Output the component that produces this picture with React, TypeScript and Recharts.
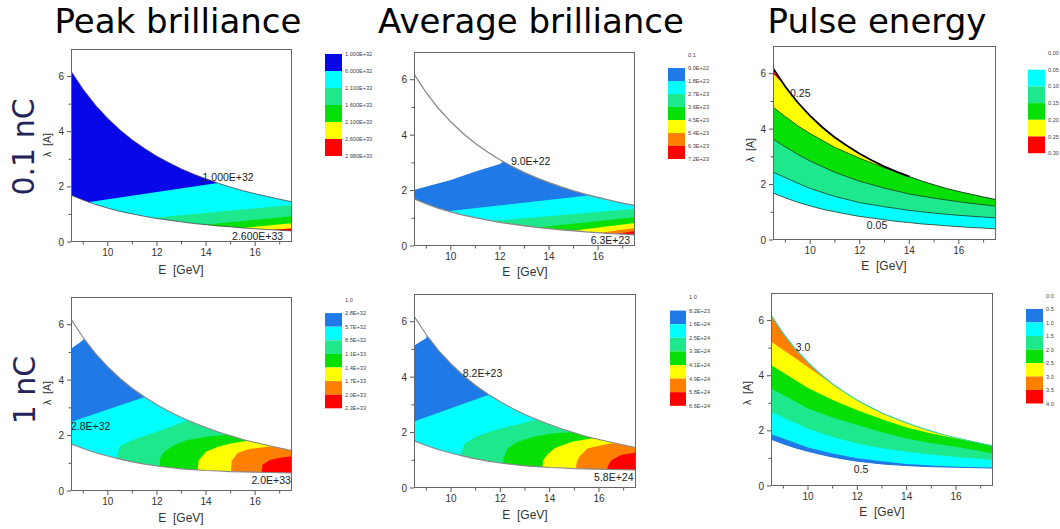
import React from "react";
import { ComposedChart, Area, Line, XAxis, YAxis, ReferenceDot } from "recharts";

// shared E grid and the two edges of the tuning range
const energyGrid = [8.5, 9, 9.5, 10, 10.5, 11, 11.5, 12, 12.5, 13, 13.5, 14, 14.5, 15, 15.5, 16, 16.5, 17, 17.5];
const upperEdge = [6.2, 5.53, 4.96, 4.48, 4.06, 3.7, 3.39, 3.11, 2.87, 2.65, 2.46, 2.29, 2.13, 1.99, 1.86, 1.75, 1.65, 1.55, 1.46];
const lowerEdge01 = [1.7, 1.52, 1.36, 1.23, 1.11, 1.02, 0.93, 0.85, 0.79, 0.73, 0.67, 0.63, 0.58, 0.55, 0.51, 0.48, 0.45, 0.43, 0.4];
const lowerEdge1 = [1.7, 1.53, 1.38, 1.26, 1.15, 1.05, 0.97, 0.9, 0.85, 0.8, 0.77, 0.74, 0.72, 0.7, 0.69, 0.68, 0.67, 0.66, 0.65];

type Pt = [number, number];
const fullSpan: Pt[] = [[8.5, 7], [17.5, 7]];

// peak brilliance, 0.1 nC (contour tops, [E, lambda])
const peak01Cyan: Pt[] = [[8.5, 1.35], [14.4, 2.13], [17.5, 2.55]];
const peak01Mint: Pt[] = [[11.0, 0.81], [17.5, 1.34]];
const peak01Green: Pt[] = [[13.5, 0.59], [17.5, 0.93]];
const peak01Yellow: Pt[] = [[15.0, 0.47], [17.5, 0.68]];
const peak01Red: Pt[] = [[16.0, 0.39], [17.5, 0.5]];

// average brilliance, 0.1 nC
const avg01Blue: Pt[] = [[8.5, 2.02], [8.9, 2.12], [10, 2.38], [11, 2.69], [12, 2.96], [12.5, 3.3], [17.5, 7]];
const avg01Cyan: Pt[] = [[9.5, 1.22], [15.6, 1.82], [17.5, 2.5]];
const avg01Mint: Pt[] = [[11.2, 0.86], [17.5, 1.34]];
const avg01Green: Pt[] = [[13.2, 0.64], [17.5, 1.04]];
const avg01Yellow: Pt[] = [[14.7, 0.52], [17.5, 0.83]];
const avg01Orange: Pt[] = [[15.8, 0.44], [17.5, 0.65]];
const avg01Red: Pt[] = [[16.5, 0.41], [17.5, 0.54]];

// pulse energy, 0.1 nC
const pulse01Red: Pt[] = [[8.5, 6.0], [8.85, 5.7]];
const pulse01Green: Pt[] = [[8.5, 4.8], [9, 4.45], [9.5, 4.12], [10, 3.84], [11, 3.34], [12, 2.95], [13, 2.6], [14, 2.31], [15, 2.08], [16, 1.88], [17.5, 1.62]];
const pulse01Mint: Pt[] = [[8.5, 3.64], [9, 3.36], [9.5, 3.09], [10, 2.85], [11, 2.44], [12, 2.12], [13, 1.87], [14, 1.66], [15, 1.51], [16, 1.38], [17.5, 1.22]];
const pulse01Cyan: Pt[] = [[8.5, 2.45], [9, 2.25], [9.5, 2.05], [10, 1.86], [11, 1.57], [12, 1.35], [13, 1.2], [14, 1.07], [15, 0.97], [16, 0.89], [17.5, 0.8]];

// peak brilliance, 1 nC
const peak1Blue: Pt[] = [[8.5, 5.13], [9.0, 5.45], [9.3, 7], [17.5, 7]];
const peak1Cyan: Pt[] = [[8.5, 2.49], [11.5, 3.39], [11.9, 7], [17.5, 7]];
const peak1Mint: Pt[] = [[10.35, 0.9], [10.37, 1.3], [10.5, 1.62], [11, 1.84], [12, 2.14], [12.8, 2.4], [13.3, 2.58], [13.6, 7], [17.5, 7]];
const peak1Green: Pt[] = [[12.1, 0.8], [12.13, 1.2], [12.3, 1.42], [12.7, 1.65], [13.2, 1.83], [14, 1.96], [15, 2.04], [15.3, 7], [17.5, 7]];
const peak1Yellow: Pt[] = [[13.65, 0.7], [13.7, 1.1], [14, 1.42], [14.5, 1.6], [15, 1.71], [15.5, 1.79], [15.9, 1.82], [16.2, 7], [17.5, 7]];
const peak1Orange: Pt[] = [[15.0, 0.65], [15.05, 1.1], [15.3, 1.38], [15.8, 1.52], [16.5, 1.6], [17.5, 1.66]];
const peak1Red: Pt[] = [[16.25, 0.6], [16.3, 0.95], [16.6, 1.12], [17, 1.2], [17.5, 1.25]];

// average brilliance, 1 nC
const avg1Blue: Pt[] = [[8.5, 5.13], [9.0, 5.41], [9.3, 7], [17.5, 7]];
const avg1Cyan: Pt[] = [[8.5, 2.4], [11.5, 3.36], [11.9, 7], [17.5, 7]];
const avg1Mint: Pt[] = [[10.35, 0.9], [10.4, 1.25], [10.55, 1.6], [11, 1.86], [11.9, 2.12], [12.9, 2.34], [13.4, 2.46], [13.7, 7], [17.5, 7]];
const avg1Green: Pt[] = [[12.1, 0.8], [12.14, 1.1], [12.3, 1.43], [12.7, 1.67], [13.4, 1.86], [14.2, 1.98], [15, 2.02], [15.3, 7], [17.5, 7]];
const avg1Yellow: Pt[] = [[13.7, 0.7], [13.74, 1.0], [13.9, 1.2], [14.2, 1.43], [14.9, 1.67], [15.8, 1.8], [16.1, 7], [17.5, 7]];
const avg1Orange: Pt[] = [[15.05, 0.65], [15.1, 0.95], [15.2, 1.13], [15.55, 1.43], [16.4, 1.6], [17.5, 1.66]];
const avg1Red: Pt[] = [[16.3, 0.6], [16.37, 0.8], [16.5, 1.0], [16.9, 1.19], [17.5, 1.28]];

// pulse energy, 1 nC
const pulse1Yellow: Pt[] = [[8.5, 5.24], [9.5, 4.62], [10.5, 4.0], [11.3, 3.5], [12, 7], [17.5, 7]];
const pulse1Green: Pt[] = [[8.5, 4.39], [10, 3.55], [11, 3.12], [12, 2.75], [13, 2.42], [14, 2.12], [15, 1.9], [16, 1.72], [17.5, 1.5]];
const pulse1Mint: Pt[] = [[8.5, 3.54], [9, 3.3], [10, 2.81], [11, 2.48], [12, 2.21], [13, 1.95], [14, 1.72], [15, 1.55], [16, 1.42], [17.5, 1.18]];
const pulse1Cyan: Pt[] = [[8.5, 2.69], [9, 2.48], [10, 2.08], [11, 1.78], [12, 1.54], [13, 1.37], [14, 1.24], [15, 1.14], [16, 1.05], [17.5, 0.94]];
const pulse1Blue: Pt[] = [[8.5, 1.88], [9, 1.72], [10, 1.4], [11, 1.18], [12, 1.01], [13, 0.9], [14, 0.8], [15, 0.74], [16, 0.69], [17, 0.66], [17.5, 0.65]];

// contour labels [E, lambda, text]
type Note = [number, number, string];
const peak01Notes: Note[] = [[14.9, 2.37, "1.000E+32"], [16.1, 0.22, "2.600E+33"]];
const avg01Notes: Note[] = [[13.25, 3.06, "9.0E+22"], [16.5, 0.2, "6.3E+23"]];
const pulse01Notes: Note[] = [[9.6, 5.3, "0.25"], [12.7, 0.54, "0.05"]];
const peak1Notes: Note[] = [[9.3, 2.35, "2.8E+32"], [16.65, 0.41, "2.0E+33"]];
const avg1Notes: Note[] = [[11.28, 4.16, "8.2E+23"], [16.6, 0.41, "5.8E+24"]];
const pulse1Notes: Note[] = [[9.8, 5.04, "3.0"], [12.15, 0.6, "0.5"]];

// colour-scale labels
const peak01Scale = ["1.000E+32", "6.000E+32", "1.100E+33", "1.600E+33", "2.100E+33", "2.600E+33", "2.980E+33"];
const avg01Scale = ["0.1", "9.0E+22", "1.8E+23", "2.7E+23", "3.6E+23", "4.5E+23", "5.4E+23", "6.3E+23", "7.2E+23"];
const pulse01Scale = ["0.00", "0.05", "0.10", "0.15", "0.20", "0.25", "0.30"];
const peak1Scale = ["1.0", "2.8E+32", "5.7E+32", "8.5E+32", "1.1E+33", "1.4E+33", "1.7E+33", "2.0E+33", "2.3E+33"];
const avg1Scale = ["1.0", "8.2E+23", "1.6E+24", "2.5E+24", "3.3E+24", "4.1E+24", "4.9E+24", "5.8E+24", "6.6E+24"];
const pulse1Scale = ["0.0", "0.5", "1.0", "1.5", "2.0", "2.5", "3.0", "3.5", "4.0"];

const col = {
  navy: "#0707e8",
  blue: "#1f7ae8",
  cyan: "#00ffff",
  mint: "#1ee88c",
  green: "#06e006",
  yellow: "#ffff00",
  orange: "#ff8000",
  red: "#ff0000",
};

const below = (pts: Pt[]) => pts.map(([E, v]) => ({ E, band: [0, v] }));
const above = (pts: Pt[]) => pts.map(([E, v]) => ({ E, band: [v, 7] }));
// contour line drawn only up to where it runs into the upper edge
const asLine = (pts: Pt[], maxE: number) => pts.filter(([E]) => E <= maxE).map(([E, v]) => ({ E, v }));
const gridLine = (ys: number[], maxE = 17.5) => energyGrid.filter((E) => E <= maxE).map((E, i) => ({ E, v: ys[i] }));

const xTicks = [9, 10, 11, 12, 13, 14, 15, 16, 17];
const yTicks = [0, 1, 2, 3, 4, 5, 6];
const sans = "'Liberation Sans', Arial, sans-serif";

type Layer = { color: string; data: any[] };
type Edge = { data: any[]; color: string; width: number };

type PanelProps = {
  left: number;
  top: number;
  w: number;
  h: number;
  layers: Layer[];
  lower: number[];
  edges: Edge[];
  notes: Note[];
};

function Panel({ left, top, w, h, layers, lower, edges, notes }: PanelProps) {
  const yAxisW = 40;
  const mt = 5;
  const xAxisH = 35;
  const axisY = mt + h;
  const maskTop = energyGrid.map((E, i) => ({ E, band: [upperEdge[i], 7] }));
  const maskBottom = energyGrid.map((E, i) => ({ E, band: [0, lower[i]] }));
  return (
    <div style={{ position: "absolute", left: left - yAxisW, top: top - mt }}>
      <ComposedChart width={w + yAxisW + 5} height={h + mt + xAxisH} margin={{ top: mt, right: 5, bottom: 0, left: 0 }}>
        <XAxis
          type="number"
          dataKey="E"
          domain={[8.5, 17.5]}
          ticks={xTicks}
          allowDataOverflow
          height={xAxisH}
          axisLine={false}
          tickLine={false}
          tick={(p: any) => {
            const major = p.payload.value % 2 === 0;
            return (
              <g>
                <line x1={p.x} x2={p.x} y1={axisY} y2={axisY + (major ? 4 : 2.5)} stroke="#555" />
                {major && (
                  <text x={p.x} y={axisY + 14} textAnchor="middle" fontSize={10} fontFamily={sans} fill="#333">
                    {p.payload.value}
                  </text>
                )}
              </g>
            );
          }}
        />
        <YAxis
          type="number"
          domain={[0, 7]}
          ticks={yTicks}
          allowDataOverflow
          width={yAxisW}
          axisLine={false}
          tickLine={false}
          tick={(p: any) => {
            const major = p.payload.value % 2 === 0;
            return (
              <g>
                <line x1={yAxisW} x2={yAxisW - (major ? 4 : 2.5)} y1={p.y} y2={p.y} stroke="#555" />
                {major && (
                  <text x={yAxisW - 7} y={p.y + 3.5} textAnchor="end" fontSize={10} fontFamily={sans} fill="#333">
                    {p.payload.value}
                  </text>
                )}
              </g>
            );
          }}
        />
        {layers.map((l, i) => (
          <Area key={"a" + i} data={l.data} dataKey="band" type="linear" fill={l.color} fillOpacity={1} stroke="none" isAnimationActive={false} />
        ))}
        <Area data={maskTop} dataKey="band" type="linear" fill="#fff" fillOpacity={1} stroke="none" isAnimationActive={false} />
        <Area data={maskBottom} dataKey="band" type="linear" fill="#fff" fillOpacity={1} stroke="none" isAnimationActive={false} />
        {edges.map((l, i) => (
          <Line key={"e" + i} data={l.data} dataKey="v" type="linear" stroke={l.color} strokeWidth={l.width} dot={false} isAnimationActive={false} />
        ))}
        {notes.map(([E, v, t]) => (
          <ReferenceDot
            key={t}
            x={E}
            y={v}
            r={0}
            ifOverflow="visible"
            shape={(p: any) => (
              <text x={p.cx} y={p.cy + 4} textAnchor="middle" fontSize={10.5} fontFamily={sans} fill="#222">
                {t}
              </text>
            )}
          />
        ))}
      </ComposedChart>
      <div
        style={{
          position: "absolute",
          left: yAxisW,
          top: mt,
          width: w,
          height: h,
          border: "1px solid #666",
          boxSizing: "border-box",
          pointerEvents: "none",
        }}
      />
    </div>
  );
}

function Scale({ x, top, bw, bh, colors, labels }: { x: number; top: number; bw: number; bh: number; colors: (string | null)[]; labels: string[] }) {
  return (
    <g>
      {colors.map((c, i) => (c ? <rect key={i} x={x} y={top + i * bh} width={bw} height={bh} fill={c} /> : null))}
      {labels.map((t, i) => (
        <text key={t + i} x={x + bw + 3} y={top + i * bh + 2} fontSize={5.6} fontFamily={sans} fill="#444">
          {t}
        </text>
      ))}
    </g>
  );
}

const edgePair = (lower: number[], color: string, width: number): Edge[] => [
  { data: gridLine(upperEdge), color, width },
  { data: gridLine(lower), color, width },
];

const xLabel = "E\u00a0\u00a0[GeV]";
const lLabel = "λ\u00a0\u00a0[A]";

export default function App() {
  const title = { fontFamily: "'DejaVu Sans', sans-serif", fontSize: 34, fill: "#000" } as const;
  const row = { fontFamily: "'DejaVu Sans', sans-serif", fontSize: 30, fill: "#24245a" } as const;
  const axisLab = { fontFamily: sans, fontSize: 12, fill: "#333" } as const;
  const lam = { fontFamily: sans, fontSize: 10.5, fill: "#333" } as const;
  const contour = "#1d3a1d";
  return (
    <div style={{ position: "absolute", left: 0, top: 0, width: 1060, height: 529, background: "#fff", overflow: "hidden" }}>
      <Panel
        left={71}
        top={49}
        w={221}
        h={193}
        lower={lowerEdge01}
        layers={[
          { color: col.navy, data: below(fullSpan) },
          { color: col.cyan, data: below(peak01Cyan) },
          { color: col.mint, data: below(peak01Mint) },
          { color: col.green, data: below(peak01Green) },
          { color: col.yellow, data: below(peak01Yellow) },
          { color: col.red, data: below(peak01Red) },
        ]}
        edges={edgePair(lowerEdge01, "#445", 0.8)}
        notes={peak01Notes}
      />
      <Panel
        left={414}
        top={52}
        w={221}
        h={194}
        lower={lowerEdge01}
        layers={[
          { color: col.blue, data: below(avg01Blue) },
          { color: col.cyan, data: below(avg01Cyan) },
          { color: col.mint, data: below(avg01Mint) },
          { color: col.green, data: below(avg01Green) },
          { color: col.yellow, data: below(avg01Yellow) },
          { color: col.orange, data: below(avg01Orange) },
          { color: col.red, data: below(avg01Red) },
        ]}
        edges={edgePair(lowerEdge01, "#888", 1.3)}
        notes={avg01Notes}
      />
      <Panel
        left={773}
        top={46}
        w={223}
        h={194}
        lower={lowerEdge01}
        layers={[
          { color: col.yellow, data: below(fullSpan) },
          { color: col.red, data: above(pulse01Red) },
          { color: col.green, data: below(pulse01Green) },
          { color: col.mint, data: below(pulse01Mint) },
          { color: col.cyan, data: below(pulse01Cyan) },
        ]}
        edges={[
          { data: asLine(pulse01Green, 14), color: contour, width: 0.8 },
          { data: asLine(pulse01Mint, 17.5), color: contour, width: 0.8 },
          { data: asLine(pulse01Cyan, 17.5), color: contour, width: 0.8 },
          { data: gridLine(upperEdge), color: "#1a2a1a", width: 0.9 },
          { data: gridLine(upperEdge, 14), color: "#000", width: 1.8 },
          { data: gridLine(lowerEdge01), color: contour, width: 0.8 },
        ]}
        notes={pulse01Notes}
      />
      <Panel
        left={71}
        top={297}
        w={221}
        h={194}
        lower={lowerEdge1}
        layers={[
          { color: col.blue, data: below(peak1Blue) },
          { color: col.cyan, data: below(peak1Cyan) },
          { color: col.mint, data: below(peak1Mint) },
          { color: col.green, data: below(peak1Green) },
          { color: col.yellow, data: below(peak1Yellow) },
          { color: col.orange, data: below(peak1Orange) },
          { color: col.red, data: below(peak1Red) },
        ]}
        edges={edgePair(lowerEdge1, "#888", 1.1)}
        notes={peak1Notes}
      />
      <Panel
        left={414}
        top={294}
        w={222}
        h={194}
        lower={lowerEdge1}
        layers={[
          { color: col.blue, data: below(avg1Blue) },
          { color: col.cyan, data: below(avg1Cyan) },
          { color: col.mint, data: below(avg1Mint) },
          { color: col.green, data: below(avg1Green) },
          { color: col.yellow, data: below(avg1Yellow) },
          { color: col.orange, data: below(avg1Orange) },
          { color: col.red, data: below(avg1Red) },
        ]}
        edges={edgePair(lowerEdge1, "#888", 1.1)}
        notes={avg1Notes}
      />
      <Panel
        left={771}
        top={293}
        w={222}
        h={193}
        lower={lowerEdge1}
        layers={[
          { color: col.orange, data: below(fullSpan) },
          { color: col.yellow, data: below(pulse1Yellow) },
          { color: col.green, data: below(pulse1Green) },
          { color: col.mint, data: below(pulse1Mint) },
          { color: col.cyan, data: below(pulse1Cyan) },
          { color: col.blue, data: below(pulse1Blue) },
        ]}
        edges={[
          { data: gridLine(upperEdge), color: "#3ccfae", width: 1.2 },
          { data: gridLine(lowerEdge1), color: "#1f6fd8", width: 1 },
        ]}
        notes={pulse1Notes}
      />
      <svg width={1060} height={529} style={{ position: "absolute", left: 0, top: 0, pointerEvents: "none" }}>
        <text x={178} y={33} textAnchor="middle" {...title}>Peak brilliance</text>
        <text x={531} y={33} textAnchor="middle" {...title}>Average brilliance</text>
        <text x={877} y={33} textAnchor="middle" {...title}>Pulse energy</text>
        <text transform="translate(34,147) rotate(-90)" textAnchor="middle" {...row}>0.1 nC</text>
        <text transform="translate(35,390) rotate(-90)" textAnchor="middle" {...row}>1 nC</text>

        <text x={181} y={274} textAnchor="middle" {...axisLab}>{xLabel}</text>
        <text x={525} y={276} textAnchor="middle" {...axisLab}>{xLabel}</text>
        <text x={884} y={270} textAnchor="middle" {...axisLab}>{xLabel}</text>
        <text x={181} y={522} textAnchor="middle" {...axisLab}>{xLabel}</text>
        <text x={525} y={519} textAnchor="middle" {...axisLab}>{xLabel}</text>
        <text x={882} y={516} textAnchor="middle" {...axisLab}>{xLabel}</text>

        <text transform="translate(51,145) rotate(-90)" textAnchor="middle" {...lam}>{lLabel}</text>
        <text transform="translate(754,150) rotate(-90)" textAnchor="middle" {...lam}>{lLabel}</text>
        <text transform="translate(51,393) rotate(-90)" textAnchor="middle" {...lam}>{lLabel}</text>
        <text transform="translate(751,393) rotate(-90)" textAnchor="middle" {...lam}>{lLabel}</text>

        <Scale x={325} top={54} bw={17} bh={17} colors={[col.navy, col.cyan, col.mint, col.green, col.yellow, col.red]} labels={peak01Scale} />
        <Scale x={668} top={55} bw={17} bh={13} colors={[null, col.blue, col.cyan, col.mint, col.green, col.yellow, col.orange, col.red]} labels={avg01Scale} />
        <Scale x={1028} top={53} bw={17} bh={16.7} colors={[null, col.cyan, col.mint, col.green, col.yellow, col.red]} labels={pulse01Scale} />
        <Scale x={325} top={299.5} bw={17} bh={13.6} colors={[null, col.blue, col.cyan, col.mint, col.green, col.yellow, col.orange, col.red]} labels={peak1Scale} />
        <Scale x={670} top={297} bw={16} bh={13.6} colors={[null, col.blue, col.cyan, col.mint, col.green, col.yellow, col.orange, col.red]} labels={avg1Scale} />
        <Scale x={1026} top={295.5} bw={17} bh={13.5} colors={[null, col.blue, col.cyan, col.mint, col.green, col.yellow, col.orange, col.red]} labels={pulse1Scale} />
      </svg>
    </div>
  );
}
